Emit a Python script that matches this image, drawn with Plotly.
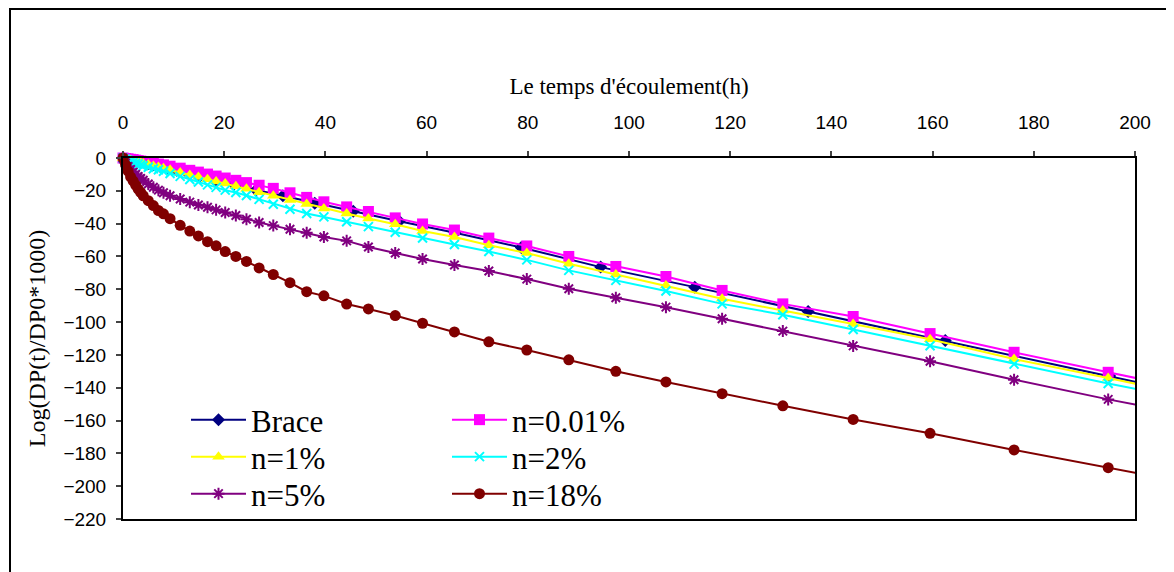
import plotly.graph_objects as go

# shared time points (h) for the n-series
t = [0, 0.5, 1, 1.5, 2, 2.5, 3, 3.5, 4, 5, 6, 7, 8, 9.3, 11.3, 13.2, 14.9, 16.7, 18.4,
     20.2, 22.3, 24.4, 26.9, 29.7, 33.0, 36.3, 39.7, 44.2, 48.5, 53.8, 59.2, 65.5, 72.3,
     79.8, 88.1, 97.4, 107.3, 118.4, 130.4, 144.3, 159.5, 176.1, 194.7, 214]

y_n001 = [0, -0.3, -0.5, -0.8, -1, -1.3, -1.6, -1.9, -2.1, -2.7, -3.2, -3.7, -4.2, -5, -6.2,
          -7.5, -8.6, -9.8, -11, -12.2, -13.6, -15, -16.6, -18.5, -21.2, -24, -26.7, -29.8,
          -32.6, -36.5, -40.2, -43.9, -48.8, -53.6, -60, -66.1, -72.2, -80.7, -88.9, -96.6,
          -107, -118.4, -130.6, -143]
y_n1 = [0, -0.5, -1, -1.4, -1.8, -2.2, -2.6, -2.9, -3.3, -4, -4.8, -5.5, -6.3, -7.2, -8.8,
        -10.3, -11.6, -13, -14.3, -15.6, -17.2, -18.8, -20.8, -23, -25.6, -28.1, -30.8, -33.8,
        -36.9, -40.4, -44.5, -48.1, -53.2, -57.9, -64.4, -71, -77.7, -85.8, -93, -101.1,
        -110.5, -122.5, -134.1, -146.5]
y_n2 = [0, -0.7, -1.4, -2, -2.6, -3.2, -3.7, -4.2, -4.7, -5.6, -6.5, -7.2, -8.1, -9.4, -11.2,
        -13.1, -14.6, -16.4, -17.9, -19.6, -21, -22.9, -25.2, -28.2, -31.2, -33.8, -35.9,
        -38.9, -41.8, -45.3, -48.8, -52.7, -57, -62.1, -68.5, -74.6, -81.1, -88.9, -95.5,
        -104.5, -114.4, -125.6, -137.4, -149]
y_n5 = [0, -3, -5.2, -7, -8.6, -10, -11.3, -12.5, -13.6, -15.8, -17.8, -19.6, -21.2, -23,
        -25, -26.9, -28.6, -30, -31.6, -33.2, -35, -37.3, -39.3, -41.2, -43.4, -45.6, -48.1,
        -50.5, -54.2, -57.9, -61.5, -65.2, -68.9, -73.8, -79.7, -85.2, -90.9, -98, -105.5,
        -114.5, -123.9, -135.1, -147.1, -158.7]
y_n18 = [0, -4, -8, -11.5, -14, -16.5, -19, -21, -23, -26, -29, -32, -34, -37, -41, -44.5,
         -47.5, -51, -53.5, -57, -60, -63, -67, -71, -76, -81.5, -84, -89, -92, -96, -100.7,
         -106, -112, -117, -123, -130, -136.5, -143.6, -151, -159.3, -167.8, -177.9, -188.7,
         -200]

# Brace model points
t_brace = [0, 1.5, 2.9, 3.5, 4.2, 5.1, 6.1, 7.3, 8.8, 10.6, 12.7, 15.2, 18.3, 21.9, 26.3,
           31.6, 37.9, 45.5, 54.6, 65.6, 78.7, 94.4, 113.0, 135.4, 162.5, 195.0, 234.0]
y_brace = [0, -1, -1.9, -2.3, -2.8, -3.4, -4.1, -5, -6, -7.4, -9, -11, -13.4, -16, -19.5,
           -23, -27.5, -32.5, -38.5, -45.5, -54.5, -66.5, -78.7, -93.6, -111.2, -132.8, -159]

x_ticks = [0, 20, 40, 60, 80, 100, 120, 140, 160, 180, 200]
y_ticks = [0, -20, -40, -60, -80, -100, -120, -140, -160, -180, -200, -220]

# figure geometry (page body adds an 8px offset)
W, H = 1166, 564
L, R, T, B = 115, 39, 150, 53
pw, ph = W - L - R, H - T - B


def px(x):
    return (x - L) / pw


def py(y):
    return (H - B - y) / ph


series = [
    dict(x=t_brace, y=y_brace, name="Brace", color="#000080", sym="diamond", size=10,
         open=False, leg="legend", lx=178, ly=385),
    dict(x=t, y=y_n001, name="n=0.01%", color="#FF00FF", sym="square", size=11,
         open=False, leg="legend2", lx=439, ly=385),
    dict(x=t, y=y_n1, name="n=1%", color="#FFFF00", sym="triangle-up", size=11,
         open=False, leg="legend3", lx=178, ly=422),
    dict(x=t, y=y_n2, name="n=2%", color="#00FFFF", sym="x-thin-open", size=9,
         open=True, leg="legend4", lx=439, ly=422),
    dict(x=t, y=y_n5, name="n=5%", color="#800080", sym="asterisk-open", size=10,
         open=True, leg="legend5", lx=178, ly=459),
    dict(x=t, y=y_n18, name="n=18%", color="#800000", sym="circle", size=11,
         open=False, leg="legend6", lx=439, ly=459),
]

fig = go.Figure()
legend_layouts = {}
for s in series:
    marker = dict(symbol=s["sym"], size=s["size"], color=s["color"])
    if s["open"]:
        marker["line"] = dict(color=s["color"], width=2)
    fig.add_trace(go.Scatter(x=s["x"], y=s["y"], name=s["name"], mode="lines+markers",
                             line=dict(color=s["color"], width=2), marker=marker,
                             cliponaxis=False, legend=s["leg"]))
    legend_layouts[s["leg"]] = dict(
        x=px(s["lx"]), y=py(s["ly"]), xanchor="left", yanchor="top",
        font=dict(family="Liberation Serif, Times New Roman", size=31, color="black"),
        bgcolor="rgba(0,0,0,0)", itemwidth=55, borderwidth=0)

fig.add_shape(type="rect", xref="paper", yref="paper",
              x0=px(2), x1=px(1190), y0=py(1), y1=py(590),
              line=dict(color="black", width=2), fillcolor="rgba(0,0,0,0)", layer="below")

fig.update_layout(
    width=W, height=H,
    margin=dict(l=L, r=R, t=T, b=B),
    paper_bgcolor="white", plot_bgcolor="white",
    font=dict(family="Liberation Sans, Arial", color="black"),
    showlegend=True,
    xaxis=dict(side="top", range=[0, 200], tickvals=x_ticks, ticks="outside", ticklen=5,
               tickwidth=2, linecolor="black", linewidth=2, mirror=True, showgrid=False,
               zeroline=False, tickfont=dict(size=19), ticklabelstandoff=14,
               title=dict(text="Le temps d'écoulement(h)", standoff=11,
                          font=dict(family="Liberation Serif, Times New Roman", size=23))),
    yaxis=dict(range=[-220, 0], tickvals=y_ticks, ticks="outside", ticklen=5, tickwidth=2,
               linecolor="black", linewidth=2, mirror=True, showgrid=False, zeroline=False,
               tickfont=dict(size=19), ticklabelstandoff=6,
               title=dict(text="Log(DP(t)/DP0*1000)", standoff=11,
                          font=dict(family="Liberation Serif, Times New Roman", size=24))),
    **legend_layouts,
)

fig.write_html("out.html")
